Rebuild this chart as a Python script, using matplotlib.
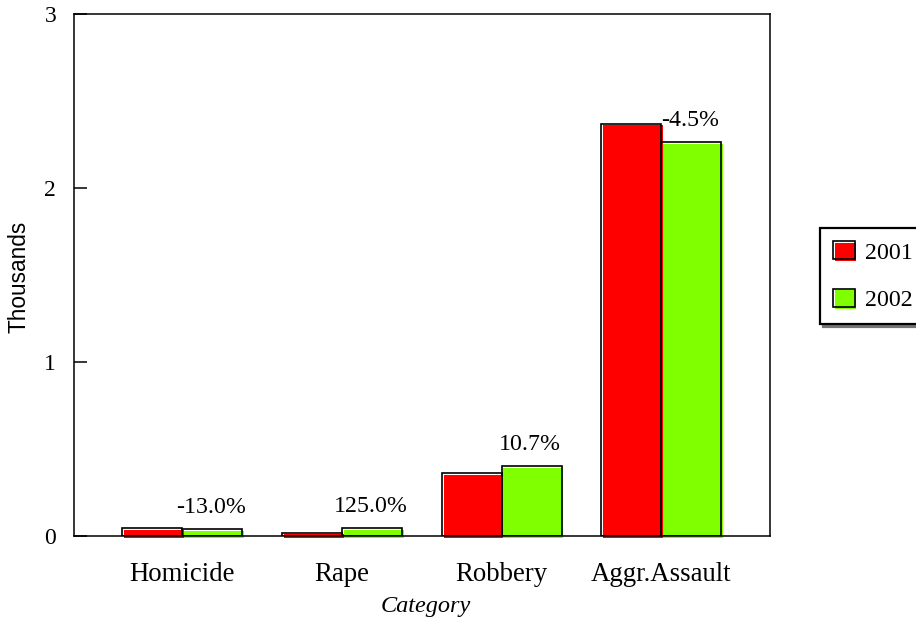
import matplotlib
matplotlib.use("Agg")
import matplotlib.pyplot as plt
import matplotlib.transforms as mtransforms
from matplotlib.patches import Rectangle
from matplotlib.legend_handler import HandlerBase
import numpy as np

categories = ["Homicide", "Rape", "Robbery", "Aggr.Assault"]
series_names = ["2001", "2002"]
values_2001 = [0.046, 0.020, 0.362, 2.370]
values_2002 = [0.040, 0.045, 0.401, 2.263]
pct_labels = ["-13.0%", "125.0%", "10.7%", "-4.5%"]
colors = ["#ff0000", "#80ff00"]
yticks = [0, 1, 2, 3]

W, H = 916, 622
fig = plt.figure(figsize=(W / 100, H / 100), dpi=100)
ax = fig.add_axes([73.5 / W, (H - 536) / H, (770 - 73.5) / W, (536 - 14) / H])

serif = "Liberation Serif"
sans = "Liberation Sans"

x = np.arange(len(categories))
bw = 0.375
fill_trans = mtransforms.offset_copy(ax.transData, fig=fig, x=1.8, y=-1.8, units="dots")

for i, (vals, col) in enumerate(zip([values_2001, values_2002], colors)):
    xs = x - bw / 2 if i == 0 else x + bw / 2
    bars = ax.bar(xs, vals, width=bw, color=col, linewidth=0, zorder=2)
    for p in bars:
        p.set_transform(fill_trans)
        p.set_clip_on(False)
    ax.bar(xs, vals, width=bw, fill=False, edgecolor="black", linewidth=1.2, zorder=3)

for xi, v, lab in zip(x, values_2002, pct_labels):
    ax.annotate(lab, xy=(xi + bw / 2, v), xytext=(-1, 11.5), textcoords="offset points",
                ha="center", va="baseline", fontsize=17.2, family=serif, zorder=4)

ax.set_xlim(-0.68, 3.68)
ax.set_ylim(0, 3)
ax.set_yticks(yticks)
ax.set_yticklabels([str(t) for t in yticks], fontsize=17, family=serif)
ax.tick_params(axis="y", direction="in", length=9.4, width=1.1, pad=12.5)
ax.set_xticks(x)
ax.set_xticklabels(categories, fontsize=19.3, family=serif)
ax.tick_params(axis="x", length=0, pad=18.5)
for s in ax.spines.values():
    s.set_linewidth(1.1)

ax.set_ylabel("Thousands", fontsize=16.3, family=sans)
ax.yaxis.set_label_coords((31 - 73.5) / 696.5, 0.497)
ax.set_xlabel("Category", fontsize=17.5, family=serif, style="italic", va="top")
ax.xaxis.set_label_coords((425.5 - 73.5) / 696.5, (536 - 596) / 522)


class HandlerShadowBox(HandlerBase):
    def create_artists(self, legend, orig_handle, xdescent, ydescent, width, height, fontsize, trans):
        col = orig_handle.get_facecolor()
        f = Rectangle((-xdescent + 1.3, -ydescent - 1.3), width, height, facecolor=col,
                      edgecolor="none", transform=trans)
        o = Rectangle((-xdescent, -ydescent), width, height, facecolor="none",
                      edgecolor="black", linewidth=1.2, transform=trans)
        return [f, o]


handles = [Rectangle((0, 0), 1, 1, facecolor=c) for c in colors]
leg = fig.legend(handles, series_names, loc="upper left",
                 bbox_to_anchor=(820 / W, (H - 228) / H, 130 / W, 0), mode="expand",
                 prop={"family": serif, "size": 17.2}, frameon=True, fancybox=False,
                 handler_map={Rectangle: HandlerShadowBox()},
                 handlelength=0.9, handleheight=0.8, handletextpad=0.45,
                 labelspacing=1.05, borderpad=0.55, borderaxespad=0,
                 shadow={"facecolor": "0.45", "edgecolor": "0.45", "alpha": 1})
leg.get_frame().set_edgecolor("black")
leg.get_frame().set_linewidth(1.6)

fig.savefig("out.png", dpi=100)
